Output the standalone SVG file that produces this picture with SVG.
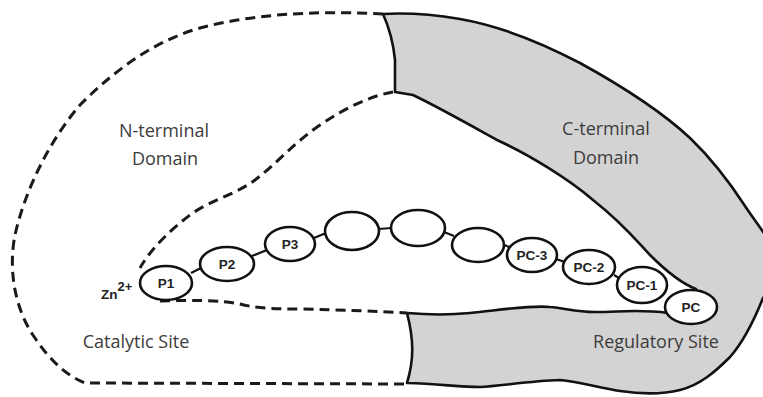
<svg xmlns="http://www.w3.org/2000/svg" width="763" height="397" viewBox="0 0 763 397">
  <style>
    .dash { fill: none; stroke: #1a1a1a; stroke-width: 3; stroke-dasharray: 10 6; stroke-linecap: butt; }
    .solid { stroke: #111; stroke-width: 2.6; stroke-linejoin: round; }
    .bead { fill: #fff; stroke: #111; stroke-width: 2.6; }
    .link { stroke: #111; stroke-width: 2.2; }
    .lbl { font-family: "Open Sans", "Liberation Sans", sans-serif; font-size: 18px; fill: #3c3c3c; text-anchor: middle; }
    .res { font-family: "Liberation Sans", Arial, sans-serif; font-size: 13.5px; font-weight: bold; fill: #222; text-anchor: middle; }
  </style>

  <!-- C-terminal domain (shaded) -->
  <g id="c-terminal-domain">
    <path class="solid" fill="#d3d3d3"
      d="M383,14 C400,13 430,14 460,19 C500,26 540,42 580,63 C620,85 660,110 690,138 C715,162 732,186 745,206
         C758,226 778,248 778,266 C778,282 769,291 763,298
         C755,318 745,340 730,357 C715,372 700,385 680,390 C660,395 640,394 620,391 C600,388 580,382 560,380
         C530,381 500,386 480,387 C460,387 440,384 407,383 C414,360 414,340 407,313
         C430,315 450,315 470,313 C500,310 530,305 550,307 C565,308 575,312 595,312 C620,312 640,309 668,313
         L696,289 C680,283 665,270 650,255 C640,245 625,225 593,200 C570,180 530,155 497,140 C470,125 440,108 413,95
         L395,92 L395,60 C393,40 388,25 383,14 Z"/>
  </g>

  <!-- N-terminal domain (dashed outline) -->
  <g id="n-terminal-domain">
    <path class="dash" d="M383,14 C330,11 260,12 200,28 C150,42 110,75 80,105 C50,140 25,190 15,235 C8,270 15,310 35,338 C50,360 65,375 85,383 L407,384"/>
    <path class="dash" d="M393,92 C370,96 345,108 320,125 C295,142 275,165 255,180 C235,195 210,200 190,215 C170,230 150,250 140,268"/>
    <path class="dash" d="M160,301 C190,300 220,300 240,304 C255,308 270,309 300,309 C340,310 375,311 407,313"/>
  </g>

  <!-- peptide backbone links -->
  <g id="connectors">
    <line class="link" x1="191" y1="273" x2="201" y2="268"/>
    <line class="link" x1="252" y1="256" x2="267" y2="250"/>
    <line class="link" x1="314" y1="238" x2="326" y2="233"/>
    <line class="link" x1="378" y1="229" x2="392" y2="228"/>
    <line class="link" x1="444" y1="232" x2="454" y2="236"/>
    <line class="link" x1="502" y1="244" x2="509" y2="247"/>
    <line class="link" x1="556" y1="259" x2="565" y2="262"/>
    <line class="link" x1="614" y1="275" x2="619" y2="278"/>
  </g>

  <g id="P1"><ellipse class="bead" cx="166" cy="283" rx="26" ry="17"/><text class="res" x="166" y="288">P1</text></g>
  <g id="P2"><ellipse class="bead" cx="227" cy="264" rx="27" ry="17"/><text class="res" x="227" y="269">P2</text></g>
  <g id="P3"><ellipse class="bead" cx="290" cy="244" rx="25" ry="17"/><text class="res" x="290" y="249">P3</text></g>
  <g id="bead-4"><ellipse class="bead" cx="352" cy="231" rx="27" ry="19"/></g>
  <g id="bead-5"><ellipse class="bead" cx="418" cy="228" rx="27" ry="18"/></g>
  <g id="bead-6"><ellipse class="bead" cx="478" cy="245" rx="26" ry="17"/></g>
  <g id="PC-3"><ellipse class="bead" cx="532" cy="255" rx="25" ry="17"/><text class="res" x="532" y="260">PC-3</text></g>
  <g id="PC-2"><ellipse class="bead" cx="589" cy="267" rx="26" ry="17"/><text class="res" x="589" y="272">PC-2</text></g>
  <g id="PC-1"><ellipse class="bead" cx="642" cy="285" rx="25" ry="18"/><text class="res" x="642" y="290">PC-1</text></g>
  <g id="PC"><ellipse class="bead" cx="691" cy="307" rx="26" ry="17"/><text class="res" x="691" y="312">PC</text></g>

  <!-- zinc ion -->
  <g id="zinc">
    <text font-family="Liberation Sans, Arial, sans-serif" font-size="13.5" font-weight="bold" fill="#222" x="101" y="299">Zn<tspan font-size="13" dy="-8">2+</tspan></text>
  </g>

  <!-- labels -->
  <g id="labels">
    <text class="lbl" x="164" y="137">N-terminal</text>
    <text class="lbl" x="165" y="165">Domain</text>
    <text class="lbl" x="606" y="135">C-terminal</text>
    <text class="lbl" x="606" y="164">Domain</text>
    <text class="lbl" x="136" y="348">Catalytic Site</text>
    <text class="lbl" x="656" y="348">Regulatory Site</text>
  </g>
</svg>
